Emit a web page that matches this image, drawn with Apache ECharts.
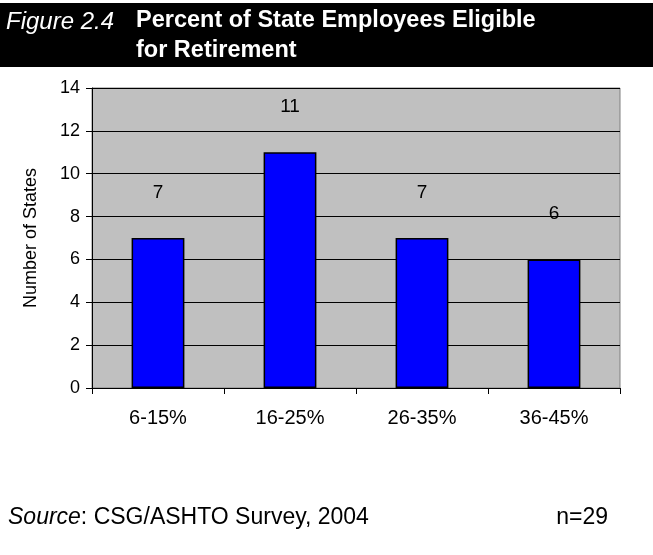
<!DOCTYPE html>
<html>
<head>
<meta charset="utf-8">
<script src="https://cdn.jsdelivr.net/npm/echarts@6/dist/echarts.min.js"></script>
<style>html,body{margin:0;padding:0;background:#fff}#container{width:653px;height:555px}</style>
</head>
<body>
<div id="container"></div>
<script>
var categories = ['6-15%', '16-25%', '26-35%', '36-45%'];
var states = [7, 11, 7, 6];

var myChart = echarts.init(document.getElementById('container'));
var font = 'Liberation Sans, Arial, sans-serif';

var options = {
    animation: false,
    graphic: [
        {type: 'rect', shape: {x: 0, y: 3, width: 653, height: 64}, style: {fill: '#000'}},
        {type: 'text', left: 6, top: 10, style: {text: 'Figure 2.4', fill: '#fff', font: 'italic 24px ' + font}},
        {type: 'text', left: 136, top: 9, style: {text: 'Percent of State Employees Eligible', fill: '#fff', font: 'bold 23.5px ' + font}},
        {type: 'text', left: 136, top: 39, style: {text: 'for Retirement', fill: '#fff', font: 'bold 23.5px ' + font}},
        {type: 'text', left: 8, top: 506, style: {
            text: '{i|Source}: CSG/ASHTO Survey, 2004',
            fill: '#000', font: '23px ' + font,
            rich: {i: {fontStyle: 'italic', fontSize: 23, fontFamily: font}}
        }},
        {type: 'text', right: 45, top: 506, style: {text: 'n=29', fill: '#000', font: '23px ' + font}}
    ],
    grid: {left: 92, right: 33, top: 88, bottom: 167, show: true, backgroundColor: '#c0c0c0', borderColor: '#808080', borderWidth: 1},
    xAxis: {
        type: 'category',
        data: categories,
        axisLine: {lineStyle: {color: '#000'}},
        axisTick: {show: true, length: 6, lineStyle: {color: '#000'}},
        axisLabel: {color: '#000', fontSize: 20, fontFamily: font, margin: 20}
    },
    yAxis: {
        type: 'value',
        min: 0, max: 14, interval: 2,
        name: 'Number of States',
        nameLocation: 'middle',
        nameGap: 52,
        nameTextStyle: {color: '#000', fontSize: 18, fontFamily: font},
        axisLine: {show: true, lineStyle: {color: '#000'}},
        axisTick: {show: true, length: 6, lineStyle: {color: '#000'}},
        axisLabel: {color: '#000', fontSize: 18, fontFamily: font, margin: 12},
        splitLine: {lineStyle: {color: '#000', width: 1}}
    },
    series: [{
        type: 'bar',
        data: states,
        barWidth: '40%',
        itemStyle: {color: '#0000ff', borderColor: '#000', borderWidth: 1.5},
        label: {show: true, position: 'top', distance: 36, color: '#000', fontSize: 19, fontFamily: font}
    }]
};

myChart.setOption(options);
</script>
</body>
</html>
